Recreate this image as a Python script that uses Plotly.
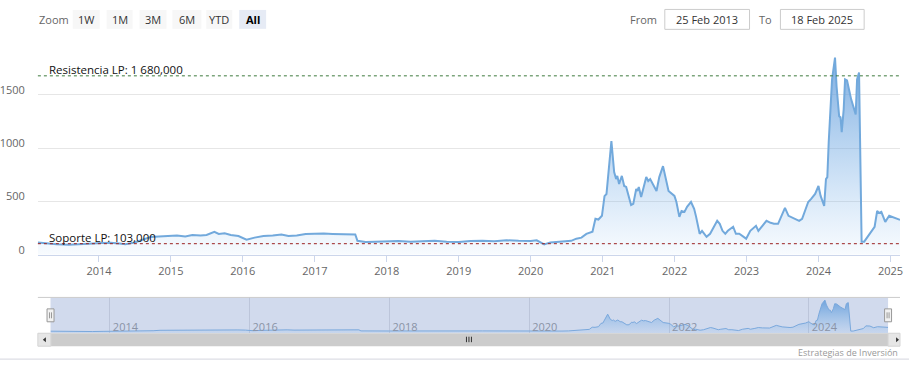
import plotly.graph_objects as go

W, H = 912, 379

# ---------------- data ----------------
dates = [
    "2013-02-25", "2013-04-15", "2013-06-01", "2013-08-01", "2013-10-01", "2013-12-01",
    "2014-01-15", "2014-03-01", "2014-04-15", "2014-05-15", "2014-07-01", "2014-08-15",
    "2014-09-20", "2014-11-01", "2014-12-15", "2015-02-01", "2015-03-15", "2015-04-20",
    "2015-06-01", "2015-07-01", "2015-08-10", "2015-09-01", "2015-10-01", "2015-11-01",
    "2015-12-10", "2016-01-20", "2016-03-01", "2016-04-15", "2016-06-01", "2016-07-15",
    "2016-08-20", "2016-10-01", "2016-11-15", "2017-01-01", "2017-02-15", "2017-04-01",
    "2017-05-15", "2017-07-01", "2017-07-25", "2017-08-05", "2017-09-15", "2017-11-01",
    "2018-01-01", "2018-03-01", "2018-05-01", "2018-07-01", "2018-09-01", "2018-11-01",
    "2019-01-01", "2019-03-01", "2019-05-01", "2019-07-01", "2019-09-01", "2019-11-01",
    "2020-01-01", "2020-02-01", "2020-03-10", "2020-04-10", "2020-05-15", "2020-06-20",
    "2020-07-25", "2020-08-20", "2020-09-15", "2020-10-10", "2020-11-10", "2020-11-25",
    "2020-12-10", "2020-12-28", "2021-01-10", "2021-01-20", "2021-02-14", "2021-02-28",
    "2021-03-10", "2021-03-16", "2021-03-25", "2021-04-08", "2021-04-20", "2021-04-30",
    "2021-05-25", "2021-06-05", "2021-06-20", "2021-06-26", "2021-07-03", "2021-07-15",
    "2021-08-10", "2021-08-20", "2021-08-30", "2021-10-01", "2021-10-15", "2021-11-03",
    "2021-11-15", "2021-12-01", "2021-12-31", "2022-01-10", "2022-01-25", "2022-02-05",
    "2022-02-20", "2022-03-05", "2022-03-25", "2022-04-10", "2022-04-20", "2022-05-08",
    "2022-05-20", "2022-06-12", "2022-06-30", "2022-08-05", "2022-08-18", "2022-09-01",
    "2022-09-15", "2022-09-28", "2022-10-25", "2022-11-08", "2022-11-25", "2022-12-30",
    "2023-01-20", "2023-02-18", "2023-03-02", "2023-03-25", "2023-04-12", "2023-05-03",
    "2023-05-20", "2023-06-10", "2023-07-15", "2023-08-02", "2023-08-15", "2023-09-25",
    "2023-10-10", "2023-11-10", "2023-11-25", "2023-12-15", "2024-01-01", "2024-01-12",
    "2024-01-30", "2024-02-08", "2024-02-15", "2024-02-22", "2024-03-10", "2024-03-25",
    "2024-04-02", "2024-04-15", "2024-04-22", "2024-04-28", "2024-05-08", "2024-05-15",
    "2024-05-25", "2024-06-05", "2024-06-15", "2024-07-08", "2024-07-15", "2024-07-25",
    "2024-08-07", "2024-08-20", "2024-09-05", "2024-10-12", "2024-10-25", "2024-11-03",
    "2024-11-15", "2024-12-05", "2024-12-25", "2025-02-18",
]
values = [
    115, 105, 98, 92, 95, 105,
    110, 112, 105, 98, 115, 140,
    165, 170, 175, 180, 170, 185,
    180, 185, 215, 195, 200, 185,
    175, 140, 160, 175, 180, 190,
    175, 180, 195, 200, 198, 195,
    192, 190, 190, 130, 120, 122,
    125, 128, 122, 125, 130, 122,
    120, 128, 130, 125, 135, 130,
    128, 135, 96, 115, 120, 122,
    130, 150, 160, 195, 215, 337,
    330, 365, 550, 570, 1066, 776,
    710, 740, 664, 740, 645, 636,
    467, 477, 617, 598, 636, 542,
    729, 692, 710, 598, 729, 832,
    740, 598, 552, 495, 355, 411,
    402, 449, 495, 430, 355, 196,
    224, 168, 196, 318, 290, 224,
    196, 224, 262, 196, 196, 150,
    224, 271, 224, 271, 318, 299,
    290, 290, 439, 365, 355, 318,
    337, 495, 524, 570, 645, 552,
    458, 710, 729, 1056, 1646, 1851,
    1580, 1300, 1290, 1150, 1365, 1646,
    1636, 1524, 1459, 1318, 1646, 1711,
    122, 122, 168, 262, 411, 393,
    402, 308, 365, 327,
]

resist_value = 1680
support_value = 103
resist_label = "Resistencia LP: 1 680,000"
support_label = "Soporte LP: 103,000"
y_tickvals = [0, 500, 1000, 1500, 2000]
y_ticktext = ["0", "500", "1000", "1500", ""]
zoom_buttons = ["1W", "1M", "3M", "6M", "YTD", "All"]
zoom_label = "Zoom"
from_label, to_label = "From", "To"
from_date = "25 Feb 2013"
to_date = "18 Feb 2025"
credit = "Estrategias de Inversión"
x_start, x_end = "2013-02-25", "2025-02-18"

# ---------------- helpers ----------------
def px(x):
    return x / W


def py(y):
    return 1 - y / H


FONT = "Open Sans"
LINE = "#72a9dc"

fig = go.Figure()

fig.add_trace(go.Scatter(
    x=dates, y=values, mode="lines", xaxis="x", yaxis="y",
    line=dict(color=LINE, width=2),
    fill="tozeroy",
    fillgradient=dict(type="vertical", start=0, stop=2000,
                      colorscale=[[0, "rgba(124,181,236,0.05)"],
                                  [1, "rgba(90,150,215,0.85)"]]),
    hoverinfo="skip", showlegend=False,
))

fig.add_trace(go.Scatter(
    x=dates, y=values, mode="lines", xaxis="x2", yaxis="y2",
    line=dict(color="#7aa8dc", width=1),
    fill="tozeroy",
    fillgradient=dict(type="vertical", start=0, stop=2000,
                      colorscale=[[0, "rgba(124,181,236,0.1)"],
                                  [1, "rgba(90,150,215,0.9)"]]),
    hoverinfo="skip", showlegend=False,
))

shapes = []
annotations = []

# resistance / support lines
shapes.append(dict(type="line", xref="x domain", yref="y", x0=0, x1=1,
                   y0=resist_value, y1=resist_value,
                   line=dict(color="#3d7a3d", width=1, dash="dot"), layer="above"))
shapes.append(dict(type="line", xref="x domain", yref="y", x0=0, x1=1,
                   y0=support_value, y1=support_value,
                   line=dict(color="#9b2020", width=1, dash="dot"), layer="above"))
annotations.append(dict(text=resist_label, xref="x domain", yref="y", x=0, y=resist_value,
                        xshift=9, yshift=-3, xanchor="left", yanchor="bottom", showarrow=False,
                        font=dict(family=FONT, size=11.5, color="#111")))
annotations.append(dict(text=support_label, xref="x domain", yref="y", x=0, y=support_value,
                        xshift=9, yshift=-3, xanchor="left", yanchor="bottom", showarrow=False,
                        font=dict(family=FONT, size=11.5, color="#111")))

# ---- range selector look-alike ----
annotations.append(dict(text=zoom_label, xref="paper", yref="paper", x=px(54.5), y=py(19.5),
                        xanchor="center", yanchor="middle", showarrow=False,
                        font=dict(family=FONT, size=11, color="#666")))
btn_x = [(73, 100), (107, 133), (140, 167), (173, 202), (207, 233), (240, 267)]
for lab, (x0, x1) in zip(zoom_buttons, btn_x):
    active = lab == "All"
    shapes.append(dict(type="rect", xref="paper", yref="paper",
                       x0=px(x0), x1=px(x1), y0=py(29), y1=py(10),
                       fillcolor="#e6ebf5" if active else "#f7f7f7",
                       line=dict(width=0), layer="above"))
    annotations.append(dict(text=f"<b>{lab}</b>" if active else lab, xref="paper", yref="paper",
                            x=px((x0 + x1) / 2), y=py(19.5), xanchor="center", yanchor="middle",
                            showarrow=False,
                            font=dict(family=FONT, size=11, color="#000" if active else "#333")))

annotations.append(dict(text=from_label, xref="paper", yref="paper", x=px(646), y=py(19.5),
                        xanchor="center", yanchor="middle", showarrow=False,
                        font=dict(family=FONT, size=11, color="#666")))
annotations.append(dict(text=to_label, xref="paper", yref="paper", x=px(768.5), y=py(19.5),
                        xanchor="center", yanchor="middle", showarrow=False,
                        font=dict(family=FONT, size=11, color="#666")))
for txt, (x0, x1) in [(from_date, (667, 752)), (to_date, (783, 867))]:
    shapes.append(dict(type="rect", xref="paper", yref="paper",
                       x0=px(x0), x1=px(x1), y0=py(29.5), y1=py(9.5),
                       fillcolor="white", line=dict(color="#cccccc", width=1), layer="above"))
    annotations.append(dict(text=txt, xref="paper", yref="paper", x=px((x0 + x1) / 2), y=py(19.5),
                            xanchor="center", yanchor="middle", showarrow=False,
                            font=dict(family=FONT, size=11, color="#333")))

# ---- navigator ----
NL, NR, NT, NB = 50.7, 891, 299, 335
shapes.append(dict(type="rect", xref="paper", yref="paper",
                   x0=px(NL), x1=px(NR), y0=py(NB), y1=py(NT),
                   fillcolor="rgba(102,133,194,0.3)", line=dict(width=0), layer="below"))
shapes.append(dict(type="line", xref="paper", yref="paper",
                   x0=px(38), x1=px(903), y0=py(NT), y1=py(NT),
                   line=dict(color="#cccccc", width=1), layer="above"))
for cx in (NL, NR):
    shapes.append(dict(type="rect", xref="paper", yref="paper",
                       x0=px(cx - 3.5), x1=px(cx + 3.5), y0=py(323.5), y1=py(310.5),
                       fillcolor="#f2f2f2", line=dict(color="#999999", width=1), layer="above"))
    for dx in (-1, 1):
        shapes.append(dict(type="line", xref="paper", yref="paper",
                           x0=px(cx + dx), x1=px(cx + dx), y0=py(320), y1=py(314),
                           line=dict(color="#999999", width=1), layer="above"))

# scrollbar
shapes.append(dict(type="rect", xref="paper", yref="paper",
                   x0=px(38), x1=px(903), y0=py(348), y1=py(335),
                   fillcolor="#cccccc", line=dict(width=0), layer="above"))
for x0, x1 in [(38, 51), (891, 903)]:
    shapes.append(dict(type="rect", xref="paper", yref="paper",
                       x0=px(x0), x1=px(x1), y0=py(348), y1=py(335),
                       fillcolor="#e6e6e6", line=dict(color="#d6d6d6", width=1), layer="above"))
shapes.append(dict(type="path", xref="paper", yref="paper",
                   path=f"M {px(43)} {py(341.5)} L {px(46)} {py(339)} L {px(46)} {py(344)} Z",
                   fillcolor="#333", line=dict(width=0), layer="above"))
shapes.append(dict(type="path", xref="paper", yref="paper",
                   path=f"M {px(899)} {py(339)} L {px(899)} {py(344)} L {px(902)} {py(341.5)} Z",
                   fillcolor="#333", line=dict(width=0), layer="above"))
for gx in (468, 470.5, 473):
    shapes.append(dict(type="line", xref="paper", yref="paper",
                       x0=px(gx), x1=px(gx), y0=py(344), y1=py(338.5),
                       line=dict(color="#333", width=1), layer="above"))

annotations.append(dict(text=credit, xref="paper", yref="paper", x=px(903), y=py(354),
                        xanchor="right", yanchor="middle", showarrow=False,
                        font=dict(family=FONT, size=9, color="#999")))
shapes.append(dict(type="line", xref="paper", yref="paper", x0=0, x1=1, y0=py(361), y1=py(361),
                   line=dict(color="#d4d6de", width=1), layer="above"))

fig.update_layout(
    width=W, height=H,
    margin=dict(l=0, r=0, t=0, b=0),
    paper_bgcolor="white", plot_bgcolor="white",
    font=dict(family=FONT, size=11, color="#666"),
    showlegend=False, hovermode=False,
    shapes=shapes, annotations=annotations,
    xaxis=dict(
        domain=[px(38), px(903)], anchor="y", type="date", range=[x_start, x_end],
        showgrid=False, zeroline=False, showline=True, linecolor="#ccd6eb", linewidth=1,
        ticks="outside", ticklen=6, tickcolor="#ccd6eb",
        dtick="M12", tick0="2014-01-01", tickformat="%Y",
        tickfont=dict(family=FONT, size=11, color="#666"), fixedrange=True,
    ),
    yaxis=dict(
        domain=[py(256), py(42)], anchor="x", range=[0, 2000],
        tickvals=y_tickvals, ticktext=y_ticktext,
        showgrid=True, gridcolor="#e6e6e6", gridwidth=1, zeroline=False, showline=False,
        ticks="", ticklabelshift=-5, ticklabelstandoff=12,
        tickfont=dict(family=FONT, size=11, color="#666"), fixedrange=True,
    ),
    xaxis2=dict(
        domain=[px(NL), px(NR)], anchor="y2", type="date", range=[x_start, x_end],
        showgrid=True, gridcolor="#bcc5da", gridwidth=1, zeroline=False, showline=False,
        ticks="", dtick="M24", tick0="2014-01-01", tickformat="%Y",
        ticklabelposition="inside right", ticklabelstandoff=-6, ticklabelshift=3,
        tickfont=dict(family=FONT, size=11, color="#8a93a6"), fixedrange=True,
    ),
    yaxis2=dict(
        domain=[py(NB), py(NT)], anchor="x2", range=[0, 2000],
        visible=False, fixedrange=True,
    ),
)

fig.write_html("out.html", config={"displayModeBar": False},
               post_script="document.body.style.margin='0';document.body.style.overflow='hidden';")
